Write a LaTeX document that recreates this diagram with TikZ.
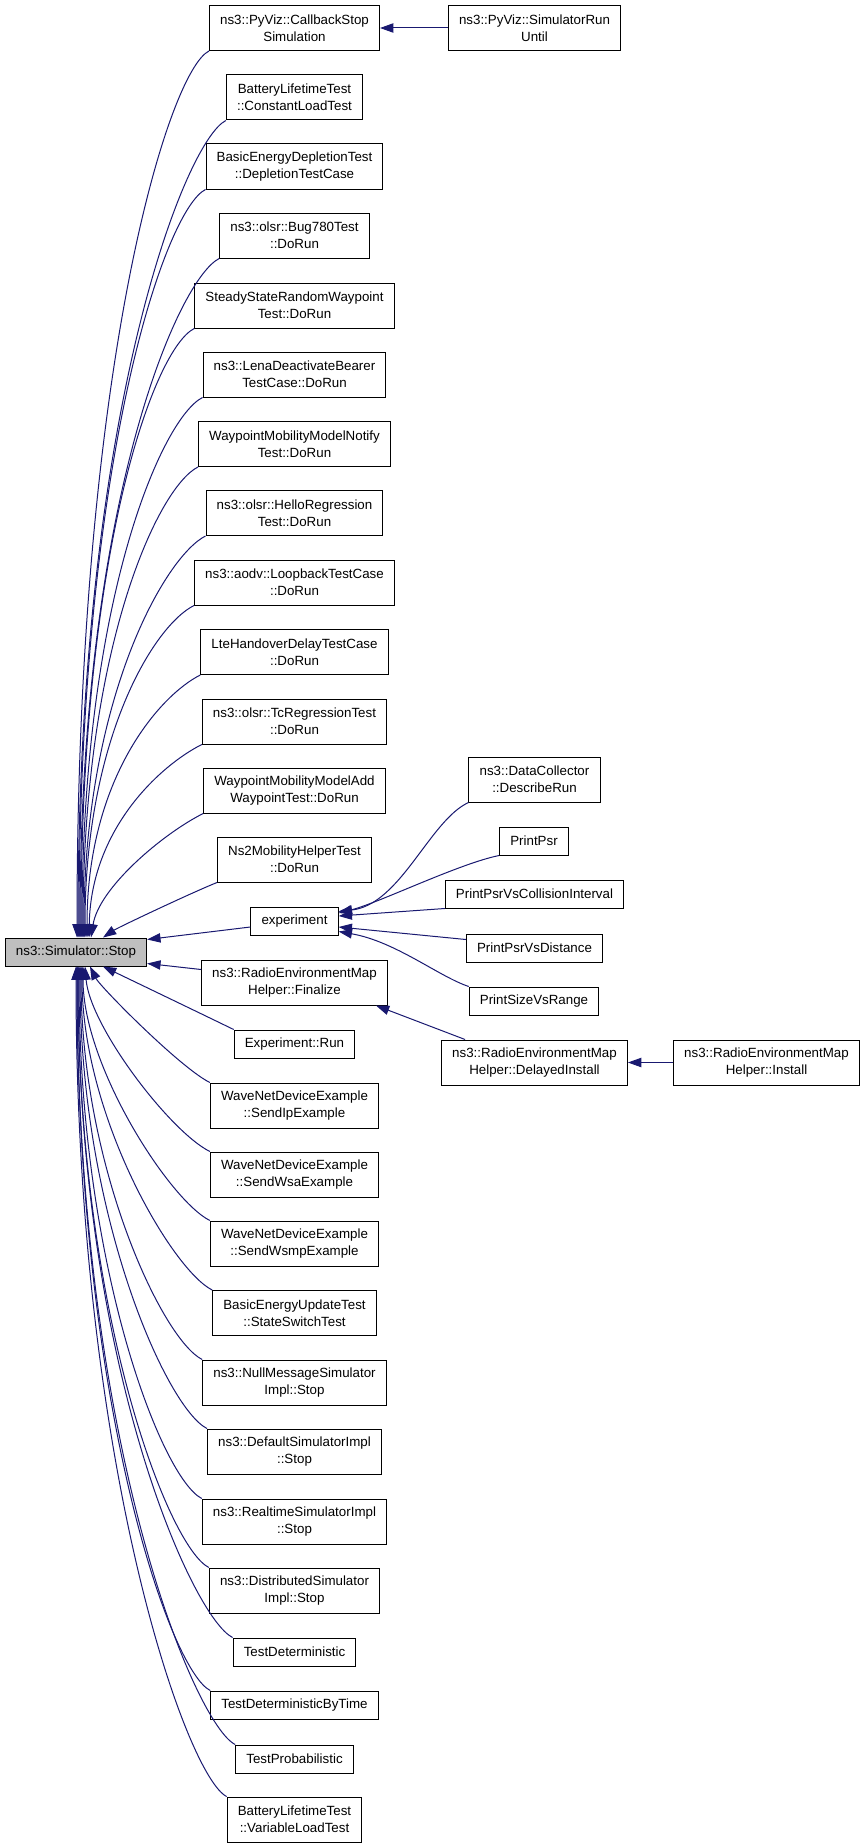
\documentclass[tikz,border=0pt]{standalone}
\usepackage{fontspec}
\setmainfont{Liberation Sans}
\usetikzlibrary{arrows.meta,calc}
\definecolor{EdgeNavy}{RGB}{25,25,112}
\definecolor{RootGrey}{RGB}{191,191,191}
\tikzset{
  fn/.style={draw=black,line width=0.75pt,fill=white,align=center,font=\fontsize{10}{12.5}\selectfont,inner xsep=8pt,inner ysep=2pt,minimum height=21pt},
  fntwo/.style={fn,minimum height=33.75pt},
  root/.style={fn,fill=RootGrey},
  call/.style={-{Triangle[length=10pt,width=7pt]},line width=0.75pt,draw=EdgeNavy}
}

\begin{document}
\begin{tikzpicture}[x=0.75pt,y=-0.75pt]
  \useasboundingbox (0,0) rectangle (864,1848);
  % function under study
  \node[root] (stop) at (76,952) {ns3::Simulator::Stop};
  % direct callers
  \node[fntwo] (cbs) at (294.5,28) {ns3::PyViz::CallbackStop\\Simulation};
  \node[fntwo] (cload) at (294.5,97.5) {BatteryLifetimeTest\\::ConstantLoadTest};
  \node[fntwo] (deplete) at (294.5,166.5) {BasicEnergyDepletionTest\\::DepletionTestCase};
  \node[fntwo] (bug780) at (294.5,235.5) {ns3::olsr::Bug780Test\\::DoRun};
  \node[fntwo] (steady) at (294.5,305.5) {SteadyStateRandomWaypoint\\Test::DoRun};
  \node[fntwo] (lena) at (294.5,374.5) {ns3::LenaDeactivateBearer\\TestCase::DoRun};
  \node[fntwo] (wpnotify) at (294.5,444) {WaypointMobilityModelNotify\\Test::DoRun};
  \node[fntwo] (hello) at (294.5,513) {ns3::olsr::HelloRegression\\Test::DoRun};
  \node[fntwo] (loopback) at (294.5,582.5) {ns3::aodv::LoopbackTestCase\\::DoRun};
  \node[fntwo] (ltehand) at (294.5,652) {LteHandoverDelayTestCase\\::DoRun};
  \node[fntwo] (tcreg) at (294.5,721.5) {ns3::olsr::TcRegressionTest\\::DoRun};
  \node[fntwo] (wpadd) at (294.5,790.5) {WaypointMobilityModelAdd\\WaypointTest::DoRun};
  \node[fntwo] (ns2) at (294.5,859.5) {Ns2MobilityHelperTest\\::DoRun};
  \node[fn] (experiment) at (294.5,921) {experiment};
  \node[fntwo] (remfin) at (294.5,982.5) {ns3::RadioEnvironmentMap\\Helper::Finalize};
  \node[fn] (exprun) at (294.5,1044) {Experiment::Run};
  \node[fntwo] (sendip) at (294.5,1105.5) {WaveNetDeviceExample\\::SendIpExample};
  \node[fntwo] (sendwsa) at (294.5,1174.5) {WaveNetDeviceExample\\::SendWsaExample};
  \node[fntwo] (sendwsmp) at (294.5,1243.5) {WaveNetDeviceExample\\::SendWsmpExample};
  \node[fntwo] (stswitch) at (294.5,1313) {BasicEnergyUpdateTest\\::StateSwitchTest};
  \node[fntwo] (nullmsg) at (294.5,1382.5) {ns3::NullMessageSimulator\\Impl::Stop};
  \node[fntwo] (defsim) at (294.5,1451.5) {ns3::DefaultSimulatorImpl\\::Stop};
  \node[fntwo] (rtsim) at (294.5,1521.5) {ns3::RealtimeSimulatorImpl\\::Stop};
  \node[fntwo] (distsim) at (294.5,1590.5) {ns3::DistributedSimulator\\Impl::Stop};
  \node[fn] (testdet) at (294.5,1652) {TestDeterministic};
  \node[fn] (testdetbt) at (294.5,1705) {TestDeterministicByTime};
  \node[fn] (testprob) at (294.5,1759) {TestProbabilistic};
  \node[fntwo] (varload) at (294.5,1819.5) {BatteryLifetimeTest\\::VariableLoadTest};
  % second level callers
  \node[fntwo] (rununtil) at (534.5,28) {ns3::PyViz::SimulatorRun\\Until};
  \node[fntwo] (describe) at (534.5,779.5) {ns3::DataCollector\\::DescribeRun};
  \node[fn] (printpsr) at (534,841) {PrintPsr};
  \node[fn] (psrcoll) at (534.5,894) {PrintPsrVsCollisionInterval};
  \node[fn] (psrdist) at (534.5,948) {PrintPsrVsDistance};
  \node[fn] (sizerange) at (534,1001) {PrintSizeVsRange};
  \node[fntwo] (delayed) at (534.5,1062.5) {ns3::RadioEnvironmentMap\\Helper::DelayedInstall};
  \node[fntwo] (install) at (766.5,1062.5) {ns3::RadioEnvironmentMap\\Helper::Install};

  % callers above
  \draw[call] (cbs.south west) .. controls +(-40,20) and +(0,-575) .. ($(stop.north)+(1,0)$);
  \draw[call] (cload.south west) .. controls +(-40,20) and +(0,-530) .. ($(stop.north)+(2,0)$);
  \draw[call] (deplete.south west) .. controls +(-40,20) and +(0,-480) .. ($(stop.north)+(3,0)$);
  \draw[call] (bug780.south west) .. controls +(-40,20) and +(0,-440) .. ($(stop.north)+(4,0)$);
  \draw[call] (steady.south west) .. controls +(-40,20) and +(0,-390) .. ($(stop.north)+(5,0)$);
  \draw[call] (lena.south west) .. controls +(-40,20) and +(0,-340) .. ($(stop.north)+(6,0)$);
  \draw[call] (wpnotify.south west) .. controls +(-40,20) and +(0,-290) .. ($(stop.north)+(7,0)$);
  \draw[call] (hello.south west) .. controls +(-40,20) and +(0,-240) .. ($(stop.north)+(8,0)$);
  \draw[call] (loopback.south west) .. controls +(-40,20) and +(0,-200) .. ($(stop.north)+(9,0)$);
  \draw[call] (ltehand.south west) .. controls +(-40,20) and +(0,-160) .. ($(stop.north)+(11,0)$);
  \draw[call] (tcreg.south west) .. controls +(-40,20) and +(2,-110) .. ($(stop.north)+(13,0)$);
  \draw[call] (wpadd.south west) .. controls +(-40,20) and +(8,-50) .. ($(stop.north)+(15,0)$);
  \draw[call] (ns2.south west) .. controls +(-25,10) and +(15,-10) .. ($(stop.north)+(27,0)$);
  \draw[call] ($(experiment.west)+(0,6)$) -- ($(stop.north east)+(0,2)$);
  \draw[call] ($(remfin.north west)+(0,10)$) -- ($(stop.south east)+(0,-3)$);
  % callers below
  \draw[call] (exprun.north west) .. controls +(-35,-17) and +(25,12) .. ($(stop.south)+(27,0)$);
  \draw[call] (sendip.north west) .. controls +(-30,-15) and +(10,20) .. ($(stop.south)+(14,0)$);
  \draw[call] (sendwsa.north west) .. controls +(-40,-20) and +(5,60) .. ($(stop.south)+(9,0)$);
  \draw[call] (sendwsmp.north west) .. controls +(-40,-20) and +(0,100) .. ($(stop.south)+(7,0)$);
  \draw[call] (stswitch.north west) .. controls +(-40,-20) and +(0,150) .. ($(stop.south)+(6,0)$);
  \draw[call] (nullmsg.north west) .. controls +(-40,-20) and +(0,200) .. ($(stop.south)+(5,0)$);
  \draw[call] (defsim.north west) .. controls +(-40,-20) and +(0,250) .. ($(stop.south)+(4,0)$);
  \draw[call] (rtsim.north west) .. controls +(-40,-20) and +(0,300) .. ($(stop.south)+(3,0)$);
  \draw[call] (distsim.north west) .. controls +(-40,-20) and +(0,350) .. ($(stop.south)+(2,0)$);
  \draw[call] (testdet.north west) .. controls +(-40,-20) and +(0,400) .. ($(stop.south)+(2,0)$);
  \draw[call] (testdetbt.north west) .. controls +(-40,-20) and +(0,440) .. ($(stop.south)+(1,0)$);
  \draw[call] (testprob.north west) .. controls +(-40,-20) and +(0,480) .. ($(stop.south)+(1,0)$);
  \draw[call] (varload.north west) .. controls +(-40,-20) and +(0,500) .. ($(stop.south)+(0,0)$);

  % second level
  \draw[call] (rununtil) -- (cbs);
  \draw[call] (describe.south west) .. controls +(-39,18) and +(62,-7) .. ($(experiment.north east)+(0,5)$);
  \draw[call] (printpsr.south west) .. controls +(-40,8) and +(40,-10) .. ($(experiment.east)+(0,-8)$);
  \draw[call] (psrcoll.south west) -- ($(experiment.east)+(0,-5)$);
  \draw[call] ($(psrdist.north west)+(0,6)$) -- ($(experiment.east)+(0,6)$);
  \draw[call] (sizerange.north west) .. controls +(-30,-10) and +(57,10) .. ($(experiment.south east)+(0,-4)$);
  \draw[call] ($(delayed.north west)+(24,0)$) -- ($(remfin.south east)+(-12,0)$);
  \draw[call] (install) -- (delayed);
\end{tikzpicture}
\end{document}
